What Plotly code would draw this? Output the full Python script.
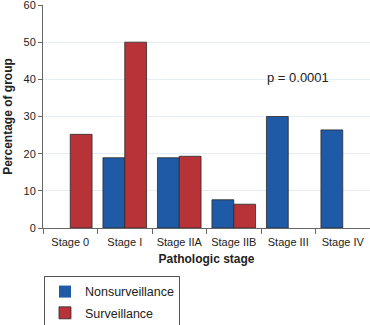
import plotly.graph_objects as go

stages = ["Stage 0", "Stage I", "Stage IIA", "Stage IIB", "Stage III", "Stage IV"]
nonsurveillance = [0, 18.9, 18.9, 7.6, 30.0, 26.4]
surveillance = [25.2, 50.0, 19.3, 6.4, 0, 0]

blue = "#1f5aa6"
red = "#b83337"


def outline(vals):
    return [0.8 if v > 0 else 0 for v in vals]


fig = go.Figure()
fig.add_trace(go.Bar(x=stages, y=nonsurveillance, name="Nonsurveillance", legendgroup="a",
                     marker=dict(color=blue,
                                 line=dict(color="#2a2a2a", width=outline(nonsurveillance)))))
fig.add_trace(go.Bar(x=stages, y=surveillance, name="Surveillance", legendgroup="b",
                     marker=dict(color=red,
                                 line=dict(color="#2a2a2a", width=outline(surveillance)))))

fig.add_annotation(x=4.18, y=40.6, xref="x", yref="y", text="p = 0.0001",
                   showarrow=False, font=dict(size=13, color="#222"))

fig.update_layout(
    width=370, height=325,
    margin=dict(l=43, r=0, t=5, b=97, autoexpand=False),
    paper_bgcolor="white", plot_bgcolor="white",
    barmode="group", bargap=0.2, bargroupgap=0,
    font=dict(family="Liberation Sans, Arial, sans-serif", color="#222", size=11),
    showlegend=True,
    legend=dict(x=0.003, y=-0.215, xanchor="left", yanchor="top",
                bordercolor="#555", borderwidth=1, font=dict(size=12.5),
                bgcolor="white", itemwidth=30, traceorder="grouped", tracegroupgap=2),
)
fig.update_xaxes(
    type="category", tickson="boundaries", ticks="outside", ticklen=5, tickangle=0,
    tickcolor="#666", showline=True, linecolor="#666", linewidth=1,
    showgrid=False, tickfont=dict(size=11), ticklabelstandoff=4,
    title=dict(text="<b>Pathologic stage</b>", font=dict(size=12), standoff=7),
)
fig.update_yaxes(
    range=[0, 60], tickvals=[0, 10, 20, 30, 40, 50, 60], ticks="outside", ticklen=4,
    tickcolor="#666", showline=True, linecolor="#666", linewidth=1,
    showgrid=True, gridcolor="#e3eef5", zeroline=False, tickfont=dict(size=11),
    ticklabeloverflow="allow",
    title=dict(text="<b>Percentage of group</b>", font=dict(size=12), standoff=8),
)

fig.write_html("out.html")
